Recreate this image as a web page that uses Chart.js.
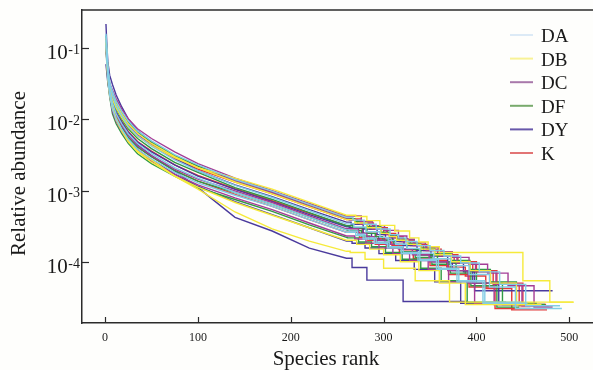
<!DOCTYPE html>
<html>
<head>
<meta charset="utf-8">
<script src="https://cdn.jsdelivr.net/npm/chart.js@4.4.1/dist/chart.umd.min.js"></script>
<style>
  html, body { margin: 0; padding: 0; background: #fefefc; }
</style>
</head>
<body>
<canvas id="rankChart" width="593" height="370"></canvas>
<script>
var HEAD_RANKS = [1, 2, 3, 5, 8, 12, 18, 25, 35, 50, 75, 100, 140, 180, 220, 260];
var X_TICKS = [0, 100, 200, 300, 400, 500];
var Y_TICKS = [1e-1, 1e-2, 1e-3, 1e-4];
var GROUPS = ['DA', 'DB', 'DC', 'DF', 'DY', 'K'];
var LINE_COLORS = ['#82cde6', '#f6ea3a', '#a43d96', '#2f9a44', '#4a3a9c', '#e23838'];
var LEGEND_COLORS = ['#dceaf6', '#f8f296', '#a878aa', '#78aa6c', '#6858aa', '#e27474'];

// per sample: head values, then the step tail (rank of each drop, level after it, last rank)
var DA_head = [
  [0.15, 0.09, 0.052, 0.032, 0.025, 0.018, 0.013, 0.0095, 0.0069, 0.005, 0.0032, 0.0023, 0.00143, 0.00098, 0.00064, 0.00042],
  [0.11, 0.066, 0.038, 0.022, 0.014, 0.01, 0.0073, 0.0053, 0.0038, 0.0028, 0.0018, 0.00128, 0.00086, 0.0006, 0.00039, 0.00026],
  [0.16, 0.1, 0.056, 0.033, 0.022, 0.0155, 0.0112, 0.008, 0.0059, 0.0042, 0.0027, 0.0019, 0.00118, 0.0008, 0.00052, 0.00034],
  [0.13, 0.078, 0.044, 0.026, 0.017, 0.012, 0.0087, 0.0063, 0.0046, 0.0033, 0.0021, 0.0015, 0.00094, 0.00064, 0.00042, 0.00028]
];
var DA_drop = [
  [267, 279, 292, 307, 316, 324, 336, 350, 365, 383, 403, 425, 453],
  [270, 278, 290, 304, 319, 337, 357, 379, 407],
  [268, 281, 296, 305, 313, 325, 339, 354, 372, 392, 414, 442],
  [263, 272, 280, 292, 306, 321, 339, 359, 381, 409]
];
var DA_level = [
  [3.84e-4, 3.36e-4, 2.88e-4, 2.4e-4, 2.16e-4, 1.92e-4, 1.68e-4, 1.44e-4, 1.2e-4, 9.6e-5, 7.2e-5, 4.8e-5, 2.4e-5],
  [2.34e-4, 2.08e-4, 1.82e-4, 1.56e-4, 1.3e-4, 1.04e-4, 7.8e-5, 5.2e-5, 2.6e-5],
  [3.08e-4, 2.64e-4, 2.2e-4, 1.98e-4, 1.76e-4, 1.54e-4, 1.32e-4, 1.1e-4, 8.8e-5, 6.6e-5, 4.4e-5, 2.2e-5],
  [2.7e-4, 2.43e-4, 2.16e-4, 1.89e-4, 1.62e-4, 1.35e-4, 1.08e-4, 8.1e-5, 5.4e-5, 2.7e-5]
];
var DA_last = [490, 455, 492, 448];

var DB_head = [
  [0.14, 0.085, 0.05, 0.03, 0.022, 0.0165, 0.012, 0.0087, 0.0064, 0.0046, 0.003, 0.0021, 0.00132, 0.0009, 0.00059, 0.00039],
  [0.125, 0.075, 0.044, 0.026, 0.019, 0.0145, 0.0106, 0.0078, 0.0058, 0.0043, 0.0029, 0.0021, 0.0015, 0.00105, 0.00069, 0.00045],
  [0.12, 0.068, 0.038, 0.022, 0.015, 0.0105, 0.0072, 0.005, 0.0036, 0.0027, 0.0016, 0.00105, 0.0005, 0.00029, 0.000195, 0.00014],
  [0.13, 0.075, 0.042, 0.025, 0.0145, 0.0098, 0.0069, 0.0049, 0.0035, 0.0025, 0.0016, 0.00112, 0.00068, 0.00045, 0.0003, 0.0002]
];
var DB_drop = [
  [269, 282, 297, 306, 314, 326, 340, 355, 373, 393, 415, 443],
  [270, 282, 296, 312, 328, 338, 348, 360, 450, 479],
  [264, 280, 300, 334, 371],
  [271, 285, 300, 318, 338, 360, 388]
];
var DB_level = [
  [3.5e-4, 3e-4, 2.5e-4, 2.25e-4, 2e-4, 1.75e-4, 1.5e-4, 1.25e-4, 1e-4, 7.5e-5, 5e-5, 2.5e-5],
  [4.32e-4, 3.78e-4, 3.24e-4, 2.7e-4, 2.16e-4, 1.89e-4, 1.62e-4, 1.35e-4, 5.4e-5, 2.7e-5],
  [1.35e-4, 1.08e-4, 8.1e-5, 5.4e-5, 2.7e-5],
  [1.75e-4, 1.5e-4, 1.25e-4, 1e-4, 7.5e-5, 5e-5, 2.5e-5]
];
var DB_last = [470, 504, 505, 462];

var DC_head = [
  [0.14, 0.088, 0.052, 0.032, 0.026, 0.0195, 0.014, 0.0102, 0.0074, 0.0054, 0.0035, 0.0024, 0.0015, 0.001, 0.00066, 0.00044],
  [0.12, 0.072, 0.041, 0.024, 0.0158, 0.0114, 0.0082, 0.006, 0.0043, 0.0031, 0.002, 0.00145, 0.00099, 0.00068, 0.00044, 0.00029],
  [0.13, 0.076, 0.044, 0.026, 0.021, 0.016, 0.0116, 0.0084, 0.0061, 0.0045, 0.0029, 0.0021, 0.00138, 0.00094, 0.00061, 0.0004],
  [0.11, 0.064, 0.037, 0.022, 0.013, 0.0094, 0.0068, 0.0049, 0.0036, 0.0026, 0.0017, 0.0012, 0.00079, 0.00054, 0.00035, 0.00023]
];
var DC_drop = [
  [276, 288, 301, 316, 325, 333, 345, 359, 374, 392, 412, 434, 462],
  [273, 282, 290, 302, 316, 331, 349, 369, 391, 419],
  [263, 275, 288, 303, 312, 320, 332, 346, 361, 379, 399, 421, 449],
  [269, 281, 295, 310, 328, 348, 370, 398]
];
var DC_level = [
  [3.68e-4, 3.22e-4, 2.76e-4, 2.3e-4, 2.07e-4, 1.84e-4, 1.61e-4, 1.38e-4, 1.15e-4, 9.2e-5, 6.9e-5, 4.6e-5, 2.3e-5],
  [2.5e-4, 2.25e-4, 2e-4, 1.75e-4, 1.5e-4, 1.25e-4, 1e-4, 7.5e-5, 5e-5, 2.5e-5],
  [3.84e-4, 3.36e-4, 2.88e-4, 2.4e-4, 2.16e-4, 1.92e-4, 1.68e-4, 1.44e-4, 1.2e-4, 9.6e-5, 7.2e-5, 4.8e-5, 2.4e-5],
  [2.08e-4, 1.82e-4, 1.56e-4, 1.3e-4, 1.04e-4, 7.8e-5, 5.2e-5, 2.6e-5]
];
var DC_last = [482, 452, 478, 440];

var DF_head = [
  [0.15, 0.09, 0.053, 0.032, 0.024, 0.0175, 0.0126, 0.0091, 0.0066, 0.0048, 0.0031, 0.0022, 0.00138, 0.00094, 0.00061, 0.0004],
  [0.12, 0.072, 0.041, 0.024, 0.0148, 0.0107, 0.0078, 0.0056, 0.0041, 0.003, 0.0019, 0.00136, 0.00094, 0.00064, 0.00042, 0.00028],
  [0.13, 0.079, 0.046, 0.0275, 0.0195, 0.014, 0.0102, 0.0074, 0.0054, 0.0039, 0.0025, 0.0018, 0.0011, 0.00075, 0.00049, 0.00032],
  [0.1, 0.06, 0.035, 0.021, 0.012, 0.0087, 0.0063, 0.0046, 0.0033, 0.0024, 0.0016, 0.0011, 0.00075, 0.00051, 0.00033, 0.00022]
];
var DF_drop = [
  [269, 282, 297, 306, 314, 326, 340, 355, 373, 393, 415, 443],
  [261, 276, 285, 293, 305, 319, 334, 352, 372, 394, 422],
  [267, 282, 291, 299, 311, 325, 340, 358, 378, 400, 428],
  [261, 273, 287, 302, 320, 340, 362, 390]
];
var DF_level = [
  [3.64e-4, 3.12e-4, 2.6e-4, 2.34e-4, 2.08e-4, 1.82e-4, 1.56e-4, 1.3e-4, 1.04e-4, 7.8e-5, 5.2e-5, 2.6e-5],
  [2.76e-4, 2.3e-4, 2.07e-4, 1.84e-4, 1.61e-4, 1.38e-4, 1.15e-4, 9.2e-5, 6.9e-5, 4.6e-5, 2.3e-5],
  [3e-4, 2.5e-4, 2.25e-4, 2e-4, 1.75e-4, 1.5e-4, 1.25e-4, 1e-4, 7.5e-5, 5e-5, 2.5e-5],
  [2.16e-4, 1.89e-4, 1.62e-4, 1.35e-4, 1.08e-4, 8.1e-5, 5.4e-5, 2.7e-5]
];
var DF_last = [465, 446, 474, 432];

var DY_head = [
  [0.22, 0.11, 0.065, 0.042, 0.031, 0.022, 0.015, 0.0102, 0.007, 0.0048, 0.0029, 0.0019, 0.0012, 0.00082, 0.00054, 0.00036],
  [0.12, 0.075, 0.044, 0.026, 0.0176, 0.0127, 0.0092, 0.0066, 0.0048, 0.0035, 0.0023, 0.0016, 0.00104, 0.0007, 0.00046, 0.00031],
  [0.13, 0.077, 0.044, 0.026, 0.016, 0.011, 0.0077, 0.0054, 0.0038, 0.0027, 0.0017, 0.00115, 0.0007, 0.00046, 0.0003, 0.000195],
  [0.06, 0.045, 0.033, 0.023, 0.0165, 0.0122, 0.0088, 0.0062, 0.0044, 0.0031, 0.0019, 0.0011, 0.00042, 0.00027, 0.000155, 0.000112]
];
var DY_drop = [
  [265, 278, 293, 302, 310, 322, 336, 351, 369, 386, 398],
  [263, 278, 287, 295, 307, 321, 336, 354, 374, 396, 424],
  [266, 280, 295, 313, 333, 355, 383],
  [266, 282, 321]
];
var DY_level = [
  [3.36e-4, 2.88e-4, 2.4e-4, 2.16e-4, 1.92e-4, 1.68e-4, 1.44e-4, 1.2e-4, 9.6e-5, 7.2e-5, 3.9e-5],
  [3e-4, 2.5e-4, 2.25e-4, 2e-4, 1.75e-4, 1.5e-4, 1.25e-4, 1e-4, 7.5e-5, 5e-5, 2.5e-5],
  [1.82e-4, 1.56e-4, 1.3e-4, 1.04e-4, 7.8e-5, 5.2e-5, 2.6e-5],
  [8.3e-5, 5.5e-5, 2.75e-5]
];
var DY_last = [482, 458, 445, 391];

var K_head = [
  [0.14, 0.085, 0.05, 0.03, 0.024, 0.0175, 0.0126, 0.0091, 0.0066, 0.0048, 0.0031, 0.0022, 0.00143, 0.00098, 0.00064, 0.00042],
  [0.115, 0.068, 0.039, 0.023, 0.0148, 0.0107, 0.0078, 0.0056, 0.0041, 0.003, 0.0019, 0.00136, 0.00088, 0.0006, 0.00039, 0.00026],
  [0.13, 0.08, 0.046, 0.0275, 0.0213, 0.0154, 0.0112, 0.008, 0.0059, 0.0043, 0.0028, 0.002, 0.00132, 0.0009, 0.00059, 0.00039],
  [0.118, 0.072, 0.043, 0.0255, 0.0172, 0.0125, 0.0094, 0.0068, 0.0049, 0.0036, 0.0023, 0.00163, 0.00106, 0.00072, 0.00048, 0.00032]
];
var K_drop = [
  [264, 276, 289, 304, 313, 321, 333, 347, 362, 380, 400, 422, 450],
  [274, 283, 291, 303, 317, 332, 350, 370, 392, 420],
  [272, 285, 300, 309, 317, 329, 343, 358, 376, 396, 418, 446],
  [264, 277, 292, 301, 309, 321, 335, 350, 368, 388, 410, 438]
];
var K_level = [
  [4e-4, 3.5e-4, 3e-4, 2.5e-4, 2.25e-4, 2e-4, 1.75e-4, 1.5e-4, 1.25e-4, 1e-4, 7.5e-5, 5e-5, 2.5e-5],
  [2.2e-4, 1.98e-4, 1.76e-4, 1.54e-4, 1.32e-4, 1.1e-4, 8.8e-5, 6.6e-5, 4.4e-5, 2.2e-5],
  [3.36e-4, 2.88e-4, 2.4e-4, 2.16e-4, 1.92e-4, 1.68e-4, 1.44e-4, 1.2e-4, 9.6e-5, 7.2e-5, 4.8e-5, 2.4e-5],
  [2.94e-4, 2.52e-4, 2.1e-4, 1.89e-4, 1.68e-4, 1.47e-4, 1.26e-4, 1.05e-4, 8.4e-5, 6.3e-5, 4.2e-5, 2.1e-5]
];
var K_last = [475, 458, 482, 476];

var SERIF = '"Liberation Serif", "Times New Roman", serif';

// head points joined straight, tail drawn as horizontal runs with vertical drops
function samplePoints(head, drop, level, last) {
  var pts = HEAD_RANKS.map(function (r, i) { return { x: r, y: head[i] }; });
  var prev = head[head.length - 1];
  drop.forEach(function (r, j) {
    pts.push({ x: r, y: prev });
    pts.push({ x: r, y: level[j] });
    prev = level[j];
  });
  pts.push({ x: last, y: prev });
  return pts;
}

var groupData = [
  [DA_head, DA_drop, DA_level, DA_last],
  [DB_head, DB_drop, DB_level, DB_last],
  [DC_head, DC_drop, DC_level, DC_last],
  [DF_head, DF_drop, DF_level, DF_last],
  [DY_head, DY_drop, DY_level, DY_last],
  [K_head, K_drop, K_level, K_last]
];

var datasets = [];
groupData.forEach(function (g, gi) {
  g[0].forEach(function (head, k) {
    datasets.push({
      label: GROUPS[gi],
      data: samplePoints(head, g[1][k], g[2][k], g[3][k]),
      borderColor: LINE_COLORS[gi],
      borderWidth: 1.4,
      pointRadius: 0,
      tension: 0,
      fill: false
    });
  });
});

var framePlugin = {
  id: 'frame',
  afterDraw: function (chart) {
    var ctx = chart.ctx, a = chart.chartArea,
        xs = chart.scales.x, ys = chart.scales.y;
    ctx.save();
    ctx.strokeStyle = '#2b2b2b';
    ctx.lineWidth = 1.5;
    ctx.beginPath();
    ctx.moveTo(a.left, a.top);
    ctx.lineTo(a.right, a.top);
    ctx.stroke();

    // inward tick marks
    ctx.lineWidth = 1.2;
    X_TICKS.forEach(function (v) {
      var px = Math.round(xs.getPixelForValue(v)) + 0.5;
      ctx.beginPath();
      ctx.moveTo(px, a.bottom);
      ctx.lineTo(px, a.bottom - 6);
      ctx.stroke();
    });
    Y_TICKS.forEach(function (v) {
      var py = Math.round(ys.getPixelForValue(v)) + 0.5;
      ctx.beginPath();
      ctx.moveTo(a.left, py);
      ctx.lineTo(a.left + 7, py);
      ctx.stroke();
    });

    // y tick labels as 10 with a raised exponent
    ctx.fillStyle = '#1a1a1a';
    ctx.textBaseline = 'alphabetic';
    ctx.textAlign = 'right';
    Y_TICKS.forEach(function (v) {
      var py = ys.getPixelForValue(v);
      var ex = String(Math.round(Math.log10(v)));
      ctx.font = '14px ' + SERIF;
      var w = ctx.measureText(ex).width;
      ctx.fillText(ex, a.left - 2, py + 6);
      ctx.font = '21px ' + SERIF;
      ctx.fillText('10', a.left - 2 - w - 0.5, py + 11);
    });

    // axis titles
    ctx.font = '21px ' + SERIF;
    ctx.textAlign = 'center';
    ctx.fillText('Species rank', 326, 365);
    ctx.save();
    ctx.translate(25, 173.5);
    ctx.rotate(-Math.PI / 2);
    ctx.fillText('Relative abundance', 0, 0);
    ctx.restore();

    // legend
    ctx.textAlign = 'left';
    ctx.font = '19px ' + SERIF;
    ctx.lineWidth = 2;
    GROUPS.forEach(function (name, i) {
      var ly = 35 + i * 23.6;
      ctx.strokeStyle = LEGEND_COLORS[i];
      ctx.beginPath();
      ctx.moveTo(510, ly);
      ctx.lineTo(533, ly);
      ctx.stroke();
      ctx.fillText(name, 541, ly + 7);
    });
    ctx.restore();
  }
};

new Chart(document.getElementById('rankChart').getContext('2d'), {
  type: 'line',
  data: { datasets: datasets },
  options: {
    responsive: false,
    animation: false,
    layout: { padding: { top: 10, right: 0, bottom: 0, left: 0 } },
    plugins: { legend: { display: false }, tooltip: { enabled: false } },
    scales: {
      x: {
        type: 'linear',
        min: -24.8,
        max: 525.5,
        afterBuildTicks: function (s) { s.ticks = X_TICKS.map(function (v) { return { value: v }; }); },
        afterFit: function (s) { s.height = 47; },
        grid: { display: false, drawTicks: false },
        border: { display: true, color: '#2b2b2b', width: 1.5 },
        ticks: { padding: 8, color: '#1a1a1a', maxRotation: 0, font: { family: SERIF, size: 12 } }
      },
      y: {
        type: 'logarithmic',
        min: 1.374e-5,
        max: 0.346,
        afterBuildTicks: function (s) { s.ticks = Y_TICKS.map(function (v) { return { value: v }; }); },
        afterFit: function (s) { s.width = 82; },
        grid: { display: false, drawTicks: false },
        border: { display: true, color: '#2b2b2b', width: 1.5 },
        ticks: { display: false }
      }
    }
  },
  plugins: [framePlugin]
});
</script>
</body>
</html>
